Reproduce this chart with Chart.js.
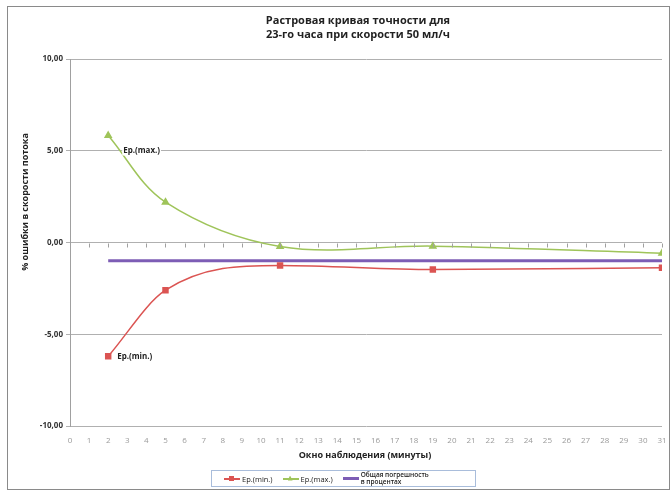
<!DOCTYPE html>
<html>
<head>
<meta charset="utf-8">
<script src="https://cdn.jsdelivr.net/npm/chart.js@4.4.1/dist/chart.umd.min.js"></script>
<style>
  body { margin: 0; background: #fff; font-family: "Open Sans", sans-serif; }
  #wrap { position: relative; width: 672px; height: 491px; overflow: hidden; }
  #frame { position: absolute; left: 7px; top: 6px; width: 661px; height: 482px; border: 1px solid #8a8a8a; pointer-events: none; }
  #legend { position: absolute; left: 211px; top: 470px; width: 265px; height: 17px; border: 1px solid #a9bddb;
            display: flex; align-items: center; padding-left: 12px; box-sizing: border-box; font-size: 7.5px; color: #222; }
  .item { display: flex; align-items: center; margin-right: 10px; }
  .mark { position: relative; width: 16px; height: 2px; margin-right: 2px; }
  .mark i { position: absolute; left: 5px; top: -2px; width: 5px; height: 5px; }
  .two { line-height: 6.5px; font-size: 6.5px; font-weight: 600; }
</style>
</head>
<body>
<div id="wrap">
  <canvas id="chart" width="672" height="491"></canvas>
  <div id="frame"></div>
  <div id="legend"></div>
</div>
<script>
// Растровая кривая точности
const xMinutes = [2, 5, 11, 19, 31];
const epMin = [-6.2, -2.6, -1.25, -1.47, -1.38];
const epMax = [5.83, 2.2, -0.22, -0.2, -0.58];
const totalX = [2, 31];
const totalErr = [-1.0, -1.0];

const titleLines = ['Растровая кривая точности для', '23-го часа при скорости 50 мл/ч'];
const yTitle = '% ошибки в скорости потока';
const xTitle = 'Окно наблюдения (минуты)';
const seriesNames = ['Ep.(min.)', 'Ep.(max.)', 'Общая погрешность\nв процентах'];

const RED = '#db5452', GREEN = '#9fc45a', PURPLE = '#7d5db5';

const toPts = (xs, ys) => xs.map((x, i) => ({ x, y: ys[i] }));

// extra drawing: titles, tick marks on the zero line, point labels
const extras = {
  id: 'extras',
  afterDraw(chart) {
    const { ctx, scales: { x, y } } = chart;
    ctx.save();
    // tick marks along y = 0
    const y0 = Math.round(y.getPixelForValue(0)) + 0.5;
    ctx.strokeStyle = '#a0a0a0';
    ctx.lineWidth = 1;
    for (let v = 0; v <= 31; v++) {
      const px = Math.round(x.getPixelForValue(v)) + 0.5;
      ctx.beginPath(); ctx.moveTo(px, y0); ctx.lineTo(px, y0 + 4); ctx.stroke();
    }
    // chart title
    ctx.fillStyle = '#222';
    ctx.textAlign = 'center';
    ctx.textBaseline = 'middle';
    ctx.font = 'bold 11px "Open Sans"';
    ctx.fillText(titleLines[0], 358, 21);
    ctx.fillText(titleLines[1], 358, 35);
    // axis titles
    ctx.font = 'bold 9px "Open Sans"';
    ctx.fillText(xTitle, 365, 455);
    ctx.save();
    ctx.translate(25, 202);
    ctx.rotate(-Math.PI / 2);
    ctx.fillText(yTitle, 0, 0);
    ctx.restore();
    // labels at first points
    ctx.font = 'bold 8px "Open Sans"';
    ctx.textAlign = 'left';
    const lbl = (text, px, py) => {
      const w = ctx.measureText(text).width;
      ctx.fillStyle = '#fff';
      ctx.fillRect(px - 1, py - 5, w + 2, 10);
      ctx.fillStyle = '#222';
      ctx.fillText(text, px, py);
    };
    lbl(seriesNames[1], x.getPixelForValue(xMinutes[0]) + 15, y.getPixelForValue(epMax[0]) + 15);
    lbl(seriesNames[0], x.getPixelForValue(xMinutes[0]) + 9, y.getPixelForValue(epMin[0]));
    ctx.restore();
  }
};

new Chart(document.getElementById('chart'), {
  type: 'line',
  data: {
    datasets: [
      { label: seriesNames[0], data: toPts(xMinutes, epMin), borderColor: RED, backgroundColor: RED,
        borderWidth: 1.5, pointStyle: 'rect', pointRadius: 3.5, cubicInterpolationMode: 'monotone' },
      { label: seriesNames[1], data: toPts(xMinutes, epMax), borderColor: GREEN, backgroundColor: GREEN,
        borderWidth: 1.5, pointStyle: 'triangle', pointRadius: 3.5, tension: 0.35 },
      { label: seriesNames[2], data: toPts(totalX, totalErr), borderColor: PURPLE, backgroundColor: PURPLE,
        borderWidth: 3, pointRadius: 0, tension: 0 }
    ]
  },
  options: {
    responsive: false,
    animation: false,
    devicePixelRatio: 1,
    layout: { padding: { top: 59, left: 0, right: 10, bottom: 44 } },
    plugins: { legend: { display: false }, title: { display: false }, tooltip: { enabled: false } },
    scales: {
      x: {
        type: 'linear', min: 0, max: 31,
        afterFit: s => { s.height = 21; },
        grid: { display: false },
        border: { display: false },
        ticks: { stepSize: 1, autoSkip: false, maxRotation: 0, color: '#9a9a9a', font: { size: 8, family: 'Open Sans' }, padding: 2 }
      },
      y: {
        min: -10, max: 10,
        afterFit: s => { s.width = 70; },
        grid: { color: '#b0b0b0', lineWidth: 1, tickLength: 4 },
        border: { color: '#a0a0a0' },
        ticks: { stepSize: 5, color: '#333', padding: 3, font: { size: 8, weight: 'bold', family: 'Open Sans' },
                 callback: v => v.toFixed(2).replace('.', ',') }
      }
    }
  },
  plugins: [extras]
});

// legend box
const legend = document.getElementById('legend');
const legendColors = [RED, GREEN, PURPLE];
seriesNames.forEach((name, i) => {
  const item = document.createElement('div');
  item.className = 'item';
  const mark = document.createElement('div');
  mark.className = 'mark';
  mark.style.background = legendColors[i];
  if (i === 0) mark.innerHTML = `<i style="background:${RED}"></i>`;
  if (i === 1) mark.innerHTML = `<i style="background:${GREEN};clip-path:polygon(50% 0,100% 100%,0 100%)"></i>`;
  if (i === 2) mark.style.height = '2.5px';
  const txt = document.createElement('div');
  if (name.includes('\n')) { txt.className = 'two'; txt.innerHTML = name.split('\n').join('<br>'); }
  else txt.textContent = name;
  item.appendChild(mark);
  item.appendChild(txt);
  legend.appendChild(item);
});
</script>
</body>
</html>
